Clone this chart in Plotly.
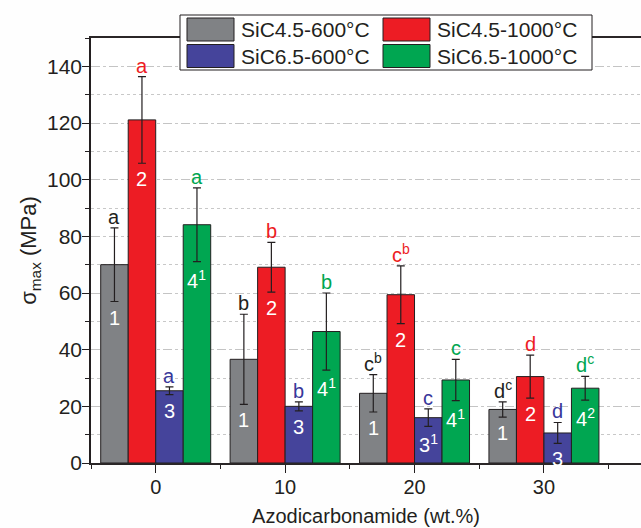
import plotly.graph_objects as go

# ---------------- data ----------------
categories = [0, 10, 20, 30]
series_names = ["SiC4.5-600°C", "SiC4.5-1000°C", "SiC6.5-600°C", "SiC6.5-1000°C"]

sic45_600 = [70.0, 36.6, 24.6, 18.9]
sic45_600_err = [13.0, 15.9, 6.6, 2.7]
sic45_1000 = [121.1, 69.1, 59.4, 30.5]
sic45_1000_err = [15.3, 8.8, 10.2, 7.6]
sic65_600 = [25.5, 20.0, 16.0, 10.6]
sic65_600_err = [1.4, 1.6, 3.1, 3.7]
sic65_1000 = [84.1, 46.4, 29.3, 26.4]
sic65_1000_err = [13.0, 13.6, 7.3, 4.2]

sic45_600_letters = ["a", "b", "c<sup>b</sup>", "d<sup>c</sup>"]
sic45_1000_letters = ["a", "b", "c<sup>b</sup>", "d"]
sic65_600_letters = ["a", "b", "c", "d"]
sic65_1000_letters = ["a", "b", "c", "d<sup>c</sup>"]

sic45_600_nums = ["1", "1", "1", "1"]
sic45_1000_nums = ["2", "2", "2", "2"]
sic65_600_nums = ["3", "3", "3<sup>1</sup>", "3"]
sic65_1000_nums = ["4<sup>1</sup>", "4<sup>1</sup>", "4<sup>1</sup>", "4<sup>2</sup>"]

y_ticks = [0, 20, 40, 60, 80, 100, 120, 140]

# ---------------- styles ----------------
FONT = "Liberation Sans, Arial, sans-serif"
DARK = "#231f20"
bar_colors = ["#808285", "#ed1c24", "#45449b", "#00a651"]
label_colors = [DARK, "#ed1c24", "#38379a", "#00a651"]

values = [sic45_600, sic45_1000, sic65_600, sic65_1000]
errors = [sic45_600_err, sic45_1000_err, sic65_600_err, sic65_1000_err]
letters = [sic45_600_letters, sic45_1000_letters, sic65_600_letters, sic65_1000_letters]
nums = [sic45_600_nums, sic45_1000_nums, sic65_600_nums, sic65_1000_nums]

BARGAP = 0.15
n = len(series_names)
cat_step = categories[1] - categories[0]
bar_w = cat_step * (1 - BARGAP) / n
offsets = [(i - (n - 1) / 2) * bar_w for i in range(n)]

fig = go.Figure()
for i in range(n):
    fig.add_trace(go.Bar(
        x=categories, y=values[i], name=series_names[i],
        marker=dict(color=bar_colors[i], line=dict(color=DARK, width=1)),
        error_y=dict(type="data", array=errors[i], visible=True,
                     color=DARK, thickness=1.2, width=4),
        showlegend=False,
    ))

annotations = []
for i in range(n):
    for j, c in enumerate(categories):
        xv = c + offsets[i]
        annotations.append(dict(
            x=xv, y=values[i][j] + errors[i][j], xref="x", yref="y",
            text=letters[i][j], showarrow=False, yanchor="bottom", yshift=-2,
            font=dict(family=FONT, size=20, color=label_colors[i])))
        annotations.append(dict(
            x=xv, y=values[i][j] - errors[i][j], xref="x", yref="y",
            text=nums[i][j], showarrow=False, yanchor="top", yshift=-3,
            font=dict(family=FONT, size=20, color="white")))

# ---------------- manual legend ----------------
L, R, T, B = 91, 0, 38, 65
W, H = 641, 528
pw, ph = W - L - R, H - T - B

def px_x(p):
    return (p - L) / pw

def px_y(p):
    return (H - B - p) / ph

shapes = [dict(type="rect", xref="paper", yref="paper",
               x0=px_x(180), x1=px_x(592), y0=px_y(70), y1=px_y(15),
               fillcolor="white", line=dict(color=DARK, width=1), layer="above")]
leg_pos = [(187, 18), (383, 18), (187, 44.5), (383, 44.5)]
for i, (lx, ly) in enumerate(leg_pos):
    shapes.append(dict(type="rect", xref="paper", yref="paper",
                       x0=px_x(lx), x1=px_x(lx + 47), y0=px_y(ly + 23), y1=px_y(ly),
                       fillcolor=bar_colors[i], line=dict(color=DARK, width=1), layer="above"))
    annotations.append(dict(x=px_x(lx + 52), y=px_y(ly + 11.5), xref="paper", yref="paper",
                            text=series_names[i], showarrow=False, xanchor="left", yanchor="middle",
                            font=dict(family=FONT, size=21, color=DARK)))

fig.update_layout(
    width=W, height=H, autosize=False,
    margin=dict(l=L, r=R, t=T, b=B, pad=0),
    paper_bgcolor="#fefefe", plot_bgcolor="#ffffff",
    barmode="group", bargap=BARGAP, bargroupgap=0,
    font=dict(family=FONT, size=20, color=DARK),
    annotations=annotations, shapes=shapes,
    xaxis=dict(
        range=[-5, 37.5], tickmode="array", tickvals=categories, automargin=False,
        ticks="outside", ticklen=8, tickwidth=1.3, tickcolor=DARK,
        minor=dict(dtick=5, tick0=0, ticks="outside", ticklen=4, tickwidth=1.3, tickcolor=DARK, showgrid=False),
        showgrid=False, zeroline=False,
        showline=True, linecolor="#2a2627", linewidth=1.6, mirror=True,
        ticklabelstandoff=-3,
        tickfont=dict(family=FONT, size=20, color=DARK),
        title=dict(text="Azodicarbonamide (wt.%)", font=dict(family=FONT, size=20, color=DARK), standoff=12),
    ),
    yaxis=dict(
        range=[0, 150], tickmode="array", tickvals=y_ticks, automargin=False,
        ticks="outside", ticklen=7, tickwidth=1.3, tickcolor=DARK,
        showgrid=True, gridcolor="#c4c4c4", gridwidth=1, griddash="dash",
        minor=dict(dtick=10, tick0=0, ticks="outside", ticklen=4, tickwidth=1.3, tickcolor=DARK,
                   showgrid=True, gridcolor="#c8c8c8", gridwidth=1, griddash="dot"),
        zeroline=False, showline=True, linecolor=DARK, linewidth=1.6,
        ticklabelstandoff=-4,
        tickfont=dict(family=FONT, size=21, color=DARK),
        title=dict(text="σ<sub>max</sub> (MPa)", font=dict(family=FONT, size=22, color=DARK), standoff=4),
    ),
)

fig.write_html(
    "out.html",
    config={"displayModeBar": False, "responsive": False},
)
